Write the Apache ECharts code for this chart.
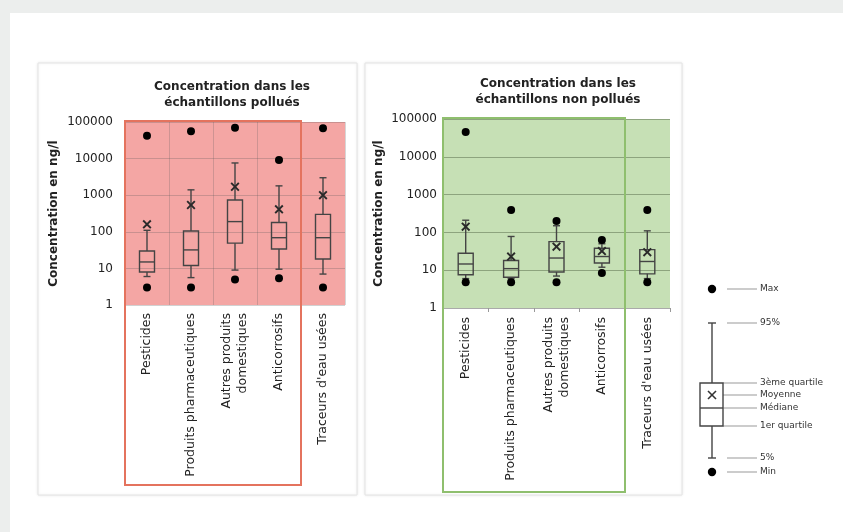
<!DOCTYPE html>
<html>
<head>
<meta charset="utf-8">
<script src="https://cdn.jsdelivr.net/npm/echarts@6/dist/echarts.min.js"></script>
<style>
  body { margin: 0; background: #eceeed; }
  #main { width: 843px; height: 532px; }
</style>
</head>
<body>
<div id="main"></div>
<script>
// categories
const categories = ['Pesticides', 'Produits pharmaceutiques', 'Autres produits\ndomestiques', 'Anticorrosifs', "Traceurs d'eau usées"];
const yTicks = [1, 10, 100, 1000, 10000, 100000];

// échantillons pollués
const polMin = [3, 3, 5, 5.4, 3];
const polP5 = [6, 5.6, 9, 9.5, 7];
const polQ1 = [8, 12, 49, 34, 18];
const polMed = [15, 32, 190, 69, 69];
const polQ3 = [30, 105, 740, 180, 300];
const polP95 = [110, 1400, 7600, 1800, 3000];
const polMean = [160, 540, 1700, 410, 1000];
const polMax = [42000, 56000, 70000, 9100, 67000];

// échantillons non pollués
const npMin = [4.8, 4.8, 4.8, 8.4, 4.8];
const npP5 = [6, 6, 7, 12, 6];
const npQ1 = [7.6, 6.5, 9, 15.5, 8];
const npMed = [14.6, 11, 21, 23, 17];
const npQ3 = [28, 18, 57, 38, 35];
const npP95 = [210, 78, 150, 50, 110];
const npMean = [142, 23, 42, 32, 30];
const npMax = [45000, 390, 200, 63, 390];

// key labels
const keyLabels = ['Max', '95%', '3ème quartile', 'Moyenne', 'Médiane', '1er quartile', '5%', 'Min'];

const FONT = 'DejaVu Sans';
const INK = '#444';
const xMark = 'path://M0,1.5L1.5,0L5,3.5L8.5,0L10,1.5L6.5,5L10,8.5L8.5,10L5,6.5L1.5,10L0,8.5L3.5,5Z';

function boxRows(p5, q1, med, q3, p95) {
  return categories.map((c, i) => [i, p5[i], q1[i], med[i], q3[i], p95[i]]);
}

function renderBox(params, api) {
  const i = api.value(0);
  const lo = api.coord([i, api.value(1)]);
  const q1 = api.coord([i, api.value(2)]);
  const md = api.coord([i, api.value(3)]);
  const q3 = api.coord([i, api.value(4)]);
  const hi = api.coord([i, api.value(5)]);
  const x = lo[0], bw = 15, cw = 7;
  const st = { stroke: INK, lineWidth: 1.4, fill: null };
  return {
    type: 'group',
    children: [
      { type: 'line', shape: { x1: x, y1: lo[1], x2: x, y2: q1[1] }, style: st },
      { type: 'line', shape: { x1: x, y1: q3[1], x2: x, y2: hi[1] }, style: st },
      { type: 'line', shape: { x1: x - cw / 2, y1: lo[1], x2: x + cw / 2, y2: lo[1] }, style: st },
      { type: 'line', shape: { x1: x - cw / 2, y1: hi[1], x2: x + cw / 2, y2: hi[1] }, style: st },
      { type: 'rect', shape: { x: x - bw / 2, y: q3[1], width: bw, height: q1[1] - q3[1] }, style: st },
      { type: 'line', shape: { x1: x - bw / 2, y1: md[1], x2: x + bw / 2, y2: md[1] }, style: st }
    ]
  };
}

function yAxisFor(gi, gap, nameGap, gridColor) {
  return {
    gridIndex: gi, type: 'log', logBase: 10, min: 1, max: 100000,
    name: 'Concentration en ng/l', nameLocation: 'middle', nameGap: nameGap,
    nameTextStyle: { fontFamily: FONT, fontSize: 12, fontWeight: 'bold', color: '#222' },
    axisLine: { show: false }, axisTick: { show: false },
    axisLabel: { margin: gap, fontFamily: FONT, fontSize: 12, color: '#222',
      formatter: v => String(Math.round(v)) },
    splitLine: { show: true, lineStyle: { color: gridColor, width: 1 } }
  };
}

function xAxisFor(gi, panel2) {
  return {
    gridIndex: gi, type: 'category', data: categories,
    axisLine: { show: panel2, lineStyle: { color: '#aaa' } },
    axisTick: { show: panel2, length: 4, lineStyle: { color: '#999' } },
    axisLabel: { rotate: 90, margin: panel2 ? 9 : 8, interval: 0, fontFamily: FONT, fontSize: 12.5, color: '#222', lineHeight: 16 },
    splitLine: { show: !panel2, lineStyle: { color: 'rgba(90,90,90,0.25)' } }
  };
}

function panelSeries(gi, min, p5, q1, med, q3, p95, mean, max) {
  return [
    { type: 'custom', xAxisIndex: gi, yAxisIndex: gi, renderItem: renderBox,
      encode: { x: 0, y: [1, 2, 3, 4, 5] }, data: boxRows(p5, q1, med, q3, p95), z: 3 },
    { type: 'scatter', xAxisIndex: gi, yAxisIndex: gi, data: max, symbolSize: 8,
      itemStyle: { color: '#000', opacity: 1 }, z: 4 },
    { type: 'scatter', xAxisIndex: gi, yAxisIndex: gi, data: min, symbolSize: 8,
      itemStyle: { color: '#000', opacity: 1 }, z: 4 },
    { type: 'scatter', xAxisIndex: gi, yAxisIndex: gi, data: mean, symbol: xMark, symbolSize: 9,
      itemStyle: { color: '#2a2a2a', opacity: 1 }, z: 5 }
  ];
}

// key (legend of the box drawing)
const kx = 712, kLabelX = 760;
const keyY = [289, 323, 383, 395, 408, 426, 458, 472];
const keyStart = [727, 727, 723, 723, 723, 723, 727, 727];
const keyEls = [];
keyLabels.forEach((t, i) => {
  keyEls.push({ type: 'line', shape: { x1: keyStart[i], y1: keyY[i], x2: 757, y2: keyY[i] }, style: { stroke: '#999', lineWidth: 1 }, z: 50 });
  keyEls.push({ type: 'text', x: kLabelX, y: keyY[i], style: { text: t, font: '9px "' + FONT + '"', fill: '#333', verticalAlign: 'middle' }, z: 50 });
});
const kst = { stroke: INK, lineWidth: 1.4, fill: null };
keyEls.push(
  { type: 'line', shape: { x1: kx, y1: keyY[1], x2: kx, y2: keyY[2] }, style: kst, z: 50 },
  { type: 'line', shape: { x1: kx, y1: keyY[5], x2: kx, y2: keyY[6] }, style: kst, z: 50 },
  { type: 'line', shape: { x1: kx - 4, y1: keyY[1], x2: kx + 4, y2: keyY[1] }, style: kst, z: 50 },
  { type: 'line', shape: { x1: kx - 4, y1: keyY[6], x2: kx + 4, y2: keyY[6] }, style: kst, z: 50 },
  { type: 'rect', shape: { x: 700, y: keyY[2], width: 23, height: keyY[5] - keyY[2] }, style: kst, z: 50 },
  { type: 'line', shape: { x1: 700, y1: keyY[4], x2: 723, y2: keyY[4] }, style: kst, z: 50 },
  { type: 'line', shape: { x1: kx - 4, y1: keyY[3] - 4, x2: kx + 4, y2: keyY[3] + 4 }, style: { stroke: '#333', lineWidth: 1.6 }, z: 50 },
  { type: 'line', shape: { x1: kx + 4, y1: keyY[3] - 4, x2: kx - 4, y2: keyY[3] + 4 }, style: { stroke: '#333', lineWidth: 1.6 }, z: 50 },
  { type: 'circle', shape: { cx: kx, cy: keyY[0], r: 4.2 }, style: { fill: '#000' }, z: 50 },
  { type: 'circle', shape: { cx: kx, cy: keyY[7], r: 4.2 }, style: { fill: '#000' }, z: 50 }
);

const myChart = echarts.init(document.getElementById('main'));
const option = {
  backgroundColor: '#eceeed',
  animation: false,
  title: [
    { text: 'Concentration dans les\néchantillons pollués', left: 227, top: 74, textAlign: 'center',
      textStyle: { fontFamily: FONT, fontSize: 12, fontWeight: 'bold', color: '#222', lineHeight: 16 } },
    { text: 'Concentration dans les\néchantillons non pollués', left: 553, top: 71, textAlign: 'center',
      textStyle: { fontFamily: FONT, fontSize: 12, fontWeight: 'bold', color: '#222', lineHeight: 16 } }
  ],
  grid: [
    { left: 125, top: 122, width: 220, height: 183, show: true, backgroundColor: '#f4a6a4', borderWidth: 0, containLabel: false },
    { left: 443, top: 119, width: 227, height: 189, show: true, backgroundColor: '#c6e0b5', borderWidth: 0, containLabel: false }
  ],
  xAxis: [xAxisFor(0, false), xAxisFor(1, true)],
  yAxis: [yAxisFor(0, 12, 65, 'rgba(90,90,90,0.28)'), yAxisFor(1, 6, 58, 'rgba(70,90,60,0.45)')],
  series: [
    ...panelSeries(0, polMin, polP5, polQ1, polMed, polQ3, polP95, polMean, polMax),
    ...panelSeries(1, npMin, npP5, npQ1, npMed, npQ3, npP95, npMean, npMax)
  ],
  graphic: [
    { type: 'rect', shape: { x: 10, y: 13, width: 833, height: 519 }, style: { fill: '#fff' }, z: -20, silent: true },
    { type: 'rect', shape: { x: 38, y: 63, width: 319, height: 432 },
      style: { fill: '#fff', stroke: '#e4e4e4', lineWidth: 1, shadowBlur: 3, shadowColor: 'rgba(0,0,0,0.08)' }, z: -10, silent: true },
    { type: 'rect', shape: { x: 365, y: 63, width: 317, height: 432 },
      style: { fill: '#fff', stroke: '#e4e4e4', lineWidth: 1, shadowBlur: 3, shadowColor: 'rgba(0,0,0,0.08)' }, z: -10, silent: true },
    { type: 'rect', shape: { x: 125, y: 121, width: 176, height: 364 },
      style: { fill: null, stroke: '#e4735e', lineWidth: 2 }, z: 50, silent: true },
    { type: 'rect', shape: { x: 443, y: 118, width: 182, height: 374 },
      style: { fill: null, stroke: '#8fbf6e', lineWidth: 2 }, z: 50, silent: true },
    ...keyEls
  ]
};
myChart.setOption(option);
</script>
</body>
</html>
